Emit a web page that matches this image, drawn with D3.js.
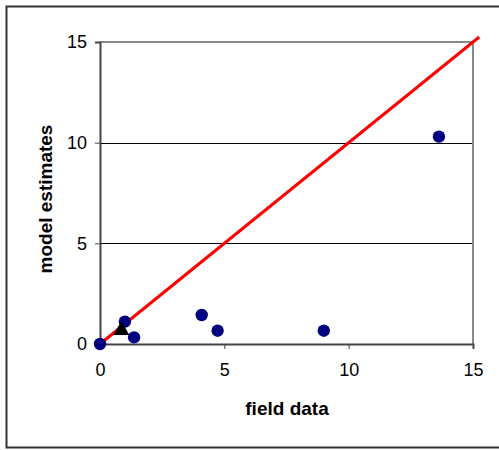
<!DOCTYPE html>
<html>
<head>
<meta charset="utf-8">
<script src="https://cdn.jsdelivr.net/npm/d3@7"></script>
<style>
  body { margin: 0; background: #fff; }
  text { font-family: Arial, "Liberation Sans", sans-serif; }
</style>
</head>
<body>
<svg id="chart" width="499" height="450"></svg>
<script>
// field data vs model estimates
var fieldData = [0, 1.0, 1.37, 4.09, 4.73, 9.0, 13.63];
var modelEst  = [0, 1.11, 0.33, 1.44, 0.66, 0.66, 10.3];
// the one triangle marker
var triX = [0.86];
var triY = [0.68];
// 1:1 line
var lineX = [0, 15.25];
var lineY = [0, 15.25];
var xTicks = [0, 5, 10, 15];
var yTicks = [0, 5, 10, 15];

var margin = {top: 42, right: 26, bottom: 106, left: 100},
    width = 499 - margin.left - margin.right,
    height = 450 - margin.top - margin.bottom;

var svg = d3.select("#chart");

// outer frame (runs off the right edge)
svg.append("rect")
  .attr("x", 6.5).attr("y", 6.5)
  .attr("width", 520).attr("height", 441)
  .attr("fill", "none")
  .attr("stroke", "#333")
  .attr("stroke-width", 2);

var g = svg.append("g")
  .attr("transform", "translate(" + margin.left + "," + margin.top + ")");

var x = d3.scaleLinear().domain([0, 15]).range([0, width]);
var y = d3.scaleLinear().domain([0, 15]).range([height, 0]);

// gridlines
g.selectAll(".grid")
  .data([5, 10])
  .enter().append("line")
    .attr("x1", 0).attr("x2", width)
    .attr("y1", function (d) { return Math.round(y(d)) + 0.5; })
    .attr("y2", function (d) { return Math.round(y(d)) + 0.5; })
    .attr("stroke", "#000")
    .attr("stroke-width", 1);

// top and right border of plot area
g.append("path")
  .attr("d", "M0," + y(15) + "H" + x(15) + "V" + height)
  .attr("fill", "none")
  .attr("stroke", "#888")
  .attr("stroke-width", 2);

// x axis
var xAxis = g.append("g")
  .attr("transform", "translate(0," + height + ")")
  .call(d3.axisBottom(x).tickValues(xTicks).tickSize(5).tickPadding(14));
xAxis.select(".domain").attr("stroke", "#444").attr("stroke-width", 2);
xAxis.selectAll(".tick line").attr("stroke", "#444");
xAxis.selectAll("text").attr("font-size", 18).attr("fill", "#000");

// y axis
var yAxis = g.append("g")
  .call(d3.axisLeft(y).tickValues(yTicks).tickSize(5).tickPadding(8));
yAxis.select(".domain").attr("stroke", "#444").attr("stroke-width", 2);
yAxis.selectAll(".tick line").attr("stroke", "#444");
yAxis.selectAll("text").attr("font-size", 18).attr("fill", "#000");

// 1:1 line
g.append("path")
  .datum(d3.zip(lineX, lineY))
  .attr("d", d3.line()
    .x(function (d) { return x(d[0]); })
    .y(function (d) { return y(d[1]); }))
  .attr("stroke", "#ff0000")
  .attr("stroke-width", 3)
  .attr("fill", "none");

// dots
g.append("g")
  .selectAll("circle")
  .data(d3.zip(fieldData, modelEst))
  .enter()
  .append("circle")
    .attr("cx", function (d) { return x(d[0]); })
    .attr("cy", function (d) { return y(d[1]); })
    .attr("r", 6.2)
    .attr("fill", "#000080");

// triangle
g.append("g")
  .selectAll("path")
  .data(d3.zip(triX, triY))
  .enter()
  .append("path")
    .attr("transform", function (d) { return "translate(" + x(d[0]) + "," + y(d[1]) + ")"; })
    .attr("d", d3.symbol().type(d3.symbolTriangle).size(110))
    .attr("fill", "#000");

// axis titles
svg.append("text")
  .attr("x", 287).attr("y", 415)
  .attr("text-anchor", "middle")
  .attr("font-size", 19).attr("font-weight", "bold")
  .text("field data");

svg.append("text")
  .attr("transform", "translate(52,199) rotate(-90)")
  .attr("text-anchor", "middle")
  .attr("font-size", 19).attr("font-weight", "bold")
  .text("model estimates");
</script>
</body>
</html>
